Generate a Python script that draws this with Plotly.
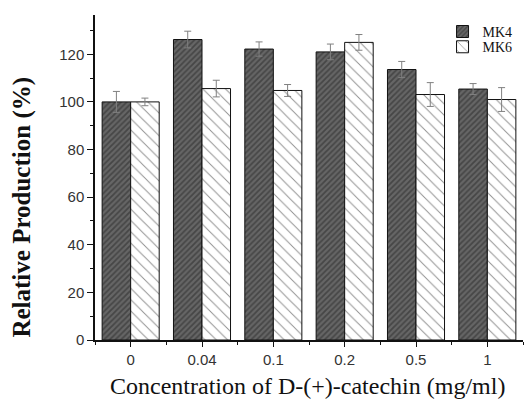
import plotly.graph_objects as go

categories = ["0", "0.04", "0.1", "0.2", "0.5", "1"]
mk4_values = [100.0, 126.2, 122.2, 121.0, 113.6, 105.4]
mk4_errors = [4.4, 3.5, 3.0, 3.3, 3.4, 2.3]
mk6_values = [100.0, 105.6, 104.8, 125.0, 103.1, 101.0]
mk6_errors = [1.6, 3.5, 2.5, 3.3, 5.0, 5.0]
y_ticks = [0, 20, 40, 60, 80, 100, 120]

x_pos = list(range(len(categories)))
serif = "Liberation Serif, Times New Roman, serif"

fig = go.Figure()
fig.add_trace(go.Bar(
    name="MK4", x=x_pos, y=mk4_values, legend="legend",
    error_y=dict(type="data", array=mk4_errors, color="#808080", thickness=1, width=3.5),
    marker=dict(color="#555555", line=dict(color="#111111", width=1),
                pattern=dict(shape="/", bgcolor="#666666", fgcolor="#262626",
                             size=4, solidity=0.45)),
))
fig.add_trace(go.Bar(
    name="MK6", x=x_pos, y=mk6_values, legend="legend2",
    error_y=dict(type="data", array=mk6_errors, color="#808080", thickness=1, width=3.5),
    marker=dict(color="white", line=dict(color="#111111", width=1),
                pattern=dict(shape="\\", bgcolor="white", fgcolor="#222222",
                             size=8, solidity=0.12)),
))

leg_common = dict(xanchor="left", yanchor="middle",
                  font=dict(family=serif, size=14, color="#111111"),
                  bgcolor="rgba(0,0,0,0)", itemwidth=30, borderwidth=0)
fig.update_layout(
    width=528, height=401,
    margin=dict(l=95, r=5, t=15, b=61),
    paper_bgcolor="white", plot_bgcolor="white",
    barmode="group", bargap=0.2, bargroupgap=0,
    showlegend=True,
    legend=dict(x=0.812, y=0.948, **leg_common),
    legend2=dict(x=0.812, y=0.901, **leg_common),
    font=dict(family="Liberation Sans, Arial, sans-serif", size=15, color="#333333"),
    annotations=[
        dict(text="Concentration of D-(+)-catechin (mg/ml)", xref="paper", yref="paper",
             x=0.497, y=-0.142, xanchor="center", yanchor="middle", showarrow=False,
             font=dict(family=serif, size=24, color="#111111")),
        dict(text="<b>Relative Production (%)</b>", xref="paper", yref="paper",
             x=-0.171, y=0.41, xanchor="center", yanchor="middle", textangle=-90,
             showarrow=False, font=dict(family=serif, size=25, color="#111111")),
    ],
)
fig.update_xaxes(
    range=[-0.5, 5.5], tickvals=x_pos, ticktext=categories,
    showline=True, linecolor="#111111", linewidth=1.5,
    ticks="outside", ticklen=5, tickcolor="#111111",
    minor=dict(ticks="outside", ticklen=3, tickcolor="#111111", dtick=0.5, tick0=0.5),
    showgrid=False, zeroline=False, automargin=False,
    tickfont=dict(size=15, color="#333333"),
)
fig.update_yaxes(
    range=[0, 136.5], tickvals=y_ticks,
    showline=True, linecolor="#111111", linewidth=1.5,
    ticks="outside", ticklen=6, tickcolor="#111111",
    minor=dict(ticks="outside", ticklen=3, tickcolor="#111111", dtick=10, tick0=0),
    showgrid=False, zeroline=False, automargin=False,
    tickfont=dict(size=15, color="#333333"),
)

fig.write_html("out.html", config={"displayModeBar": False},
               post_script="document.body.style.margin='0';document.body.style.overflow='hidden';")
